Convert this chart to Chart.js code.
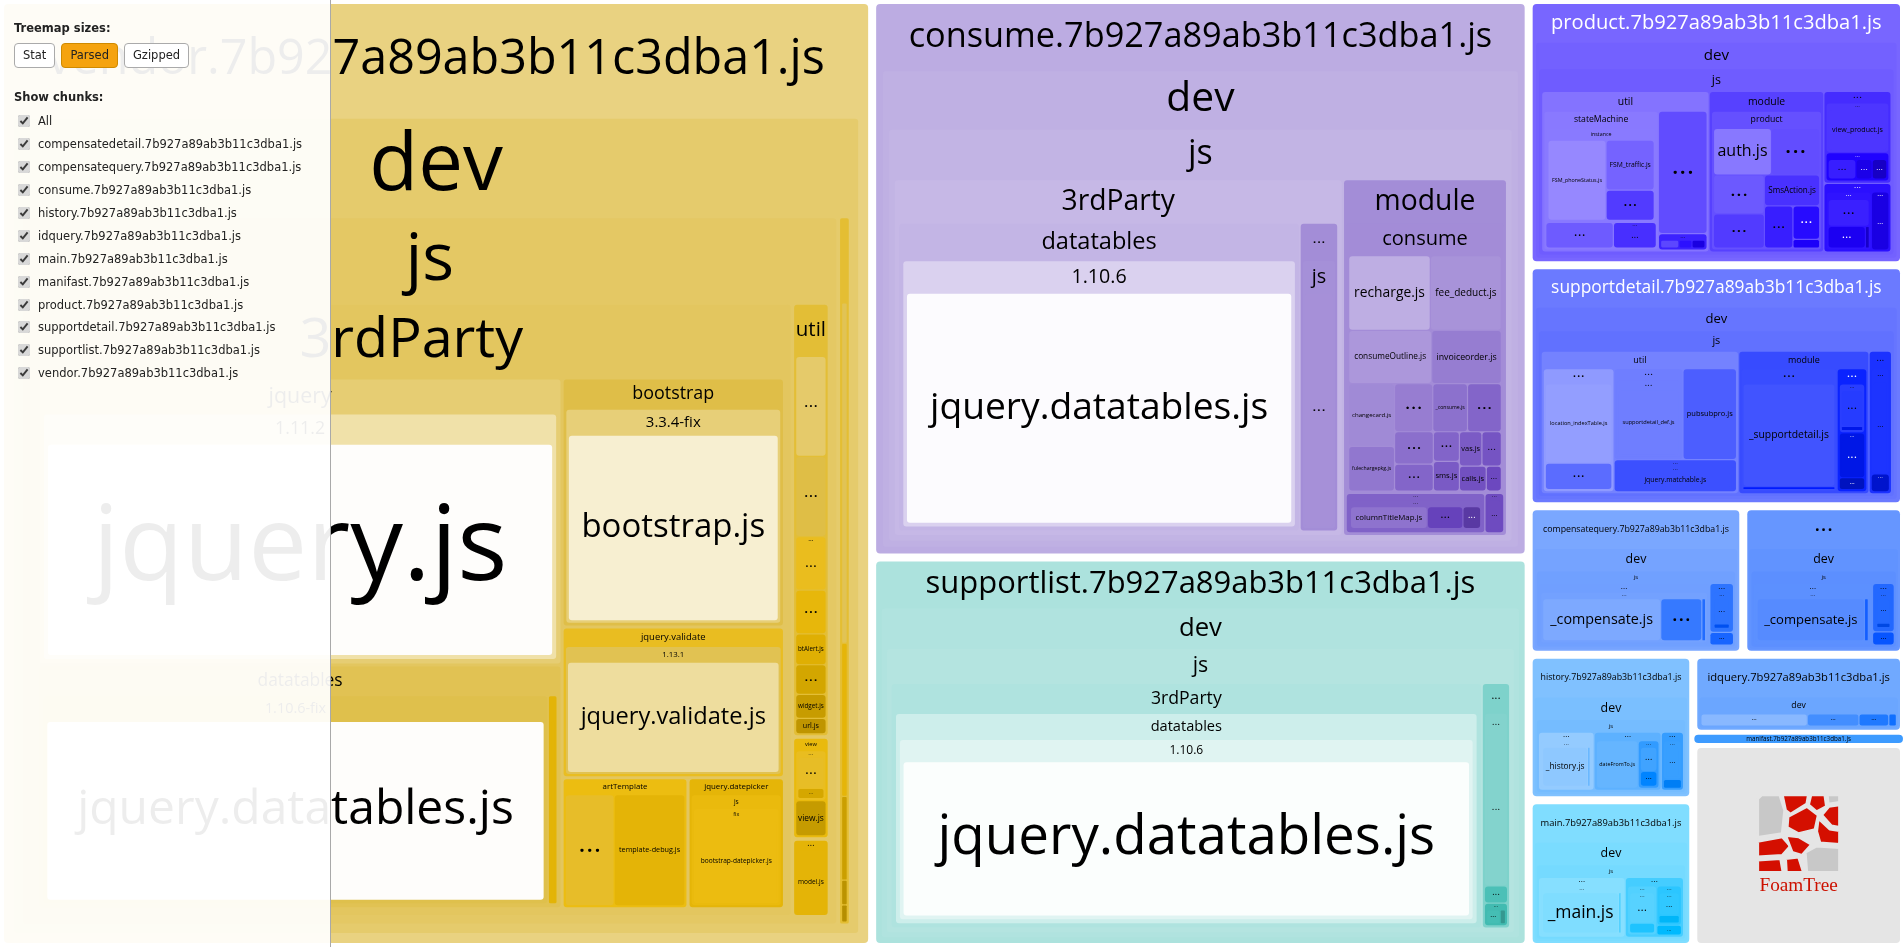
<!DOCTYPE html>
<html><head><meta charset="utf-8">
<script src="https://cdn.jsdelivr.net/npm/chart.js@4.4.1/dist/chart.umd.min.js"></script>
<style>
html,body{margin:0;padding:0;width:1904px;height:947px;overflow:hidden;background:#fff;}
#chartBox{position:absolute;left:0;top:0;width:1904px;height:947px;}
#side{position:absolute;left:0;top:0;width:331px;height:947px;background:rgba(255,255,255,0.93);border-right:1px solid #a9a9a9;box-sizing:border-box;font-family:"DejaVu Sans",sans-serif;font-size:11.5px;color:#222;}
#side .h{position:absolute;left:14px;font-weight:bold;}
#side .btns{position:absolute;left:14px;top:43px;display:flex;gap:6px;}
#side .btn{height:25px;line-height:23px;box-sizing:border-box;padding:0 8px;border:1px solid #aaa;border-radius:4px;background:#fff;color:#222;}
#side .btn.on{background:#f5a30f;border-color:#cf8a00;}
#side .list{position:absolute;left:16px;top:110px;}
#side .row{height:22.9px;display:flex;align-items:center;}
#side .row input{margin:0 8px 0 2px;width:12px;height:12px;accent-color:#d8d8d8;}
</style></head>
<body>
<div id="chartBox"><canvas id="c" width="1904" height="947"></canvas></div>
<div id="side">
  <div class="h" style="top:21px">Treemap sizes:</div>
  <div class="btns"><div class="btn">Stat</div><div class="btn on">Parsed</div><div class="btn">Gzipped</div></div>
  <div class="h" style="top:90px">Show chunks:</div>
  <div class="list" id="list"></div>
</div>
<script>
// ---------------- DATA (parsed sizes) ----------------
// "?x" = a module/folder whose name is not readable in the picture (drawn as "...")
const chunkNames = [
  "vendor.7b927a89ab3b11c3dba1.js",
  "consume.7b927a89ab3b11c3dba1.js",
  "supportlist.7b927a89ab3b11c3dba1.js",
  "product.7b927a89ab3b11c3dba1.js",
  "supportdetail.7b927a89ab3b11c3dba1.js",
  "compensatequery.7b927a89ab3b11c3dba1.js",
  "compensatedetail.7b927a89ab3b11c3dba1.js",
  "history.7b927a89ab3b11c3dba1.js",
  "main.7b927a89ab3b11c3dba1.js",
  "idquery.7b927a89ab3b11c3dba1.js",
  "manifast.7b927a89ab3b11c3dba1.js"
];
const vendorModules = [
  ["dev/js/3rdParty/jquery/1.11.2/jquery.js", 296],
  ["dev/js/3rdParty/datatables/1.10.6-fix/jquery.datatables.js", 247],
  ["dev/js/3rdParty/datatables/?d1/?d2/?d3", 4.5],
  ["dev/js/3rdParty/bootstrap/3.3.4-fix/bootstrap.js", 109],
  ["dev/js/3rdParty/jquery.validate/1.13.1/jquery.validate.js", 66],
  ["dev/js/3rdParty/artTemplate/template-debug-fix.js", 13.3],
  ["dev/js/3rdParty/artTemplate/template-debug.js", 19.2],
  ["dev/js/3rdParty/jquery.datepicker/js/fix/bootstrap-datepicker.js", 24.9],
  ["dev/js/util/?u1", 7.1],
  ["dev/js/util/?u2", 5.7],
  ["dev/js/util/?u3/?u3a", 3.8],
  ["dev/js/util/?u4", 3.1],
  ["dev/js/util/btAlert.js", 2.2],
  ["dev/js/util/?u5", 2.1],
  ["dev/js/util/widget.js", 1.7],
  ["dev/js/util/url.js", 1.1],
  ["dev/js/view/?v1/?v1a", 2.8],
  ["dev/js/view/?v1/btAlert.js", 0.9],
  ["dev/js/view/view.js", 2.6],
  ["dev/js/?m/model.js", 4.8],
  ["dev/?s/?s1", 6.9],
  ["dev/?s/?s2", 3.1],
  ["dev/?s/?s3", 1.7],
  ["dev/?s/?s4", 0.5],
  ["dev/?s/?s5", 0.35]
];
const consumeModules = [
  ["dev/js/3rdParty/datatables/1.10.6/jquery.datatables.js", 246],
  ["dev/js/3rdParty/?c/js/?c1", 23.5],
  ["dev/js/module/consume/recharge.js", 14.6],
  ["dev/js/module/consume/fee_deduct.js", 12.7],
  ["dev/js/module/consume/consumeOutline.js", 10.6],
  ["dev/js/module/consume/invoiceorder.js", 8.9],
  ["dev/js/module/consume/changecard.js", 6.9],
  ["dev/js/module/consume/fulechargepkg.js", 4.9],
  ["dev/js/module/consume/dateFromTo.js", 4.4],
  ["dev/js/module/consume/_consume.js", 4.0],
  ["dev/js/module/consume/?k1", 3.9],
  ["dev/js/module/consume/?k2", 3.0],
  ["dev/js/module/consume/?k3", 2.5],
  ["dev/js/module/consume/?k4", 1.85],
  ["dev/js/module/consume/sms.js", 1.85],
  ["dev/js/module/consume/vas.js", 1.85],
  ["dev/js/module/consume/package.js", 1.6],
  ["dev/js/module/consume/calls.js", 1.6],
  ["dev/js/module/consume/?k5", 0.9],
  ["dev/js/module/?n1/?n2/columnTitleMap.js", 6.5],
  ["dev/js/module/?n1/?n2/?n3", 3.0],
  ["dev/js/module/?n1/?n2/?n4", 1.5],
  ["dev/js/module/?n5/?n6", 1.5]
];
const supportlistModules = [
  ["dev/js/3rdParty/datatables/1.10.6/jquery.datatables.js", 245.3],
  ["dev/js/?r/?r1/?r1a", 9.5],
  ["dev/js/?r/?r2", 0.95],
  ["dev/js/?r/?r3/?r3a", 0.9],
  ["dev/js/?r/?r3/?r3b", 0.35]
];
const productModules = [
  ["dev/js/util/stateMachine/instance/FSM_phoneStatus.js", 14.5],
  ["dev/js/util/stateMachine/instance/FSM_traffic.js", 7.5],
  ["dev/js/util/stateMachine/instance/?i1", 4.5],
  ["dev/js/util/stateMachine/?s1", 4.4],
  ["dev/js/util/stateMachine/?s2/?s2a", 2.8],
  ["dev/js/util/?u1", 12.6],
  ["dev/js/util/?u2/?a", 0.7],
  ["dev/js/util/?u2/?b", 0.5],
  ["dev/js/util/?u2/?c", 0.5],
  ["dev/js/module/product/auth.js", 7.0],
  ["dev/js/module/product/?p1", 5.8],
  ["dev/js/module/product/?p2", 5.1],
  ["dev/js/module/product/?p3", 4.5],
  ["dev/js/module/product/SmsAction.js", 4.4],
  ["dev/js/module/product/_product.js", 3.1],
  ["dev/js/module/product/lotRefund.js", 2.3],
  ["dev/js/module/product/?p4", 0.6],
  ["dev/js/?x/?xa/view_product.js", 7.0],
  ["dev/js/?x/?xb/?1", 1.9],
  ["dev/js/?x/?xb/?2", 1.1],
  ["dev/js/?x/?xb/?3", 1.0],
  ["dev/js/?y/?yc/?1", 3.3],
  ["dev/js/?y/?yc/?2", 2.4],
  ["dev/js/?y/?yc/?3", 0.25],
  ["dev/js/?y/?yd/?1", 2.3]
];
const supportdetailModules = [
  ["dev/js/util/?a/location_indexTable.js", 14.1],
  ["dev/js/util/?a/?a1", 4.7],
  ["dev/js/util/?b/?b1/supportdetail_def.js", 13.5],
  ["dev/js/util/pubsubpro.js", 10.5],
  ["dev/js/util/?d/?d1/jquery.matchable.js", 8.5],
  ["dev/js/module/?e/_supportdetail.js", 25.1],
  ["dev/js/module/?e/?e1", 0.75],
  ["dev/js/module/?f/?f1/?x", 3.3],
  ["dev/js/module/?f/?f1/?y", 0.4],
  ["dev/js/module/?f/?f2/?z", 3.4],
  ["dev/js/module/?f/?f3", 0.9],
  ["dev/js/?c/?c1/?w", 5.0],
  ["dev/js/?c/?c2/?v", 0.85]
];
const compensatequeryModules = [
  ["dev/js/?a/?a1/_compensate.js", 20.4],
  ["dev/js/?a/?a1/?x", 7.1],
  ["dev/js/?a/?a1/?y", 0.65],
  ["dev/js/?b/?b1/?z", 2.65],
  ["dev/js/?b/?b1/?t", 0.45],
  ["dev/js/?c/?u", 0.8]
];
const compensatedetailModules = [
  ["dev/js/?a/?a1/_compensate.js", 19.6],
  ["dev/js/?a/?a1/?x", 0.7],
  ["dev/js/?b/?b1/?z", 2.45],
  ["dev/js/?b/?b1/?t", 0.45],
  ["dev/js/?c/?u", 0.8]
];
const historyModules = [
  ["dev/js/?a/?a1/_history.js", 8.8],
  ["dev/js/?a/?a1/?x", 0.45],
  ["dev/js/?b/dateFromTo.js", 7.4],
  ["dev/js/?b/?b2/?y", 2.3],
  ["dev/js/?b/?b2/?z", 1.4],
  ["dev/js/?c/?c1/?w", 3.0],
  ["dev/js/?c/?v", 0.7]
];
const mainModules = [
  ["dev/js/?a/?a1/_main.js", 14.1],
  ["dev/js/?a/?a1/?x", 0.45],
  ["dev/js/?b/?b1/?c/?d", 4.0],
  ["dev/js/?b/?b1/?e", 1.3],
  ["dev/js/?b/?b2/?f/?g", 2.65],
  ["dev/js/?b/?b2/?h", 0.9],
  ["dev/js/?b/?b3", 0.9]
];
const idqueryModules = [
  ["dev/?a/?a1", 9.1],
  ["dev/?b/?b1", 4.4],
  ["dev/?c/?c1", 2.55],
  ["dev/?d", 0.65]
];
const manifastModules = [
  ["dev/js/?m", 2.2]
];
const chunkModules = [vendorModules, consumeModules, supportlistModules, productModules,
  supportdetailModules, compensatequeryModules, compensatedetailModules, historyModules,
  mainModules, idqueryModules, manifastModules];
const sidebarChunks = ["compensatedetail", "compensatequery", "consume", "history", "idquery",
  "main", "manifast", "product", "supportdetail", "supportlist", "vendor"];

// ---------------- STYLE ----------------
const chunkStyle = {
  vendor: {h: 47, s: 70, l: 71, chain: -5, satBoost: true},
  consume: {h: 258, s: 48, l: 78, chain: 1},
  supportlist: {h: 175, s: 48, l: 78, chain: 1},
  product: {h: 247, s: 100, l: 70, chain: -1, white: true},
  supportdetail: {h: 234, s: 100, l: 71, chain: -1, white: true},
  compensatequery: {h: 220, s: 100, l: 74, chain: -1},
  compensatedetail: {h: 221, s: 100, l: 70, chain: -1},
  history: {h: 209, s: 100, l: 75, chain: -1},
  main: {h: 196, s: 100, l: 75, chain: -1},
  idquery: {h: 216, s: 100, l: 72, chain: -1},
  manifast: {h: 211, s: 100, l: 62, chain: 0}
};
const FONT = '"Open Sans", "Noto Sans", sans-serif';
const ATTRIBUTION_WEIGHT = 43;
const MINBAND = [38, 22, 12, 8, 6];
const ROW_TOLERANCE = 1.15;

// sidebar list
(function(){
  const list = document.getElementById('list');
  const rows = ['All'].concat(sidebarChunks.map(n => n + '.7b927a89ab3b11c3dba1.js'));
  rows.forEach(t => {
    const d = document.createElement('div'); d.className = 'row';
    d.innerHTML = '<input type="checkbox" checked><span></span>';
    d.querySelector('span').textContent = t; list.appendChild(d);
  });
})();

// ---------------- TREE + LAYOUT ----------------
function buildTree(name, modules){
  const root = {name, children: [], value: 0};
  for (const [path, size] of modules){
    let node = root;
    for (const part of path.split('/')){
      let c = node.children.find(k => k.name === part);
      if (!c){ c = {name: part, children: [], value: 0}; node.children.push(c); }
      node = c;
    }
    node.value = size;
  }
  (function sum(n){ if (n.children.length){ n.value = n.children.reduce((a, c) => a + sum(c), 0); } return n.value; })(root);
  return root;
}

function worstAspect(row, sum, side){
  const thick = sum / side; let t = 0;
  for (const it of row){ const len = it.a / thick; t = Math.max(t, thick / len, len / thick); }
  return t;
}
function squarify(items, rect){
  const total = items.reduce((a, b) => a + b.v, 0);
  const A = rect.w * rect.h;
  const list = items.map(it => ({...it, a: it.v / total * A}));
  let {x, y, w, h} = rect; const out = []; let i = 0;
  while (i < list.length){
    const side = Math.min(w, h);
    let row = [list[i]], s = list[i].a, best = worstAspect(row, s, side); i++;
    while (i < list.length && !list[i].solo && !row[0].solo){
      const cand = row.concat([list[i]]), s2 = s + list[i].a, asp = worstAspect(cand, s2, side);
      if (asp <= best * ROW_TOLERANCE){ row = cand; s = s2; best = asp; i++; } else break;
    }
    const thick = s / side;
    if (w >= h){
      let yy = y; for (const it of row){ const hh = it.a / thick; out.push({item: it, x, y: yy, w: thick, h: hh}); yy += hh; }
      x += thick; w -= thick;
    } else {
      let xx = x; for (const it of row){ const ww = it.a / thick; out.push({item: it, x: xx, y, w: ww, h: thick}); xx += ww; }
      y += thick; h -= thick;
    }
  }
  return out;
}
function layoutNode(node, x, y, w, h, depth){
  node.r = {x, y, w, h}; node.depth = depth; node.band = 0; node.inner = null; node.collapsed = false;
  if (!node.children.length) return;
  let band = Math.max(0.12 * h, MINBAND[Math.min(depth, 4)]);
  band = Math.min(band, 0.55 * h);
  const pad = Math.max(1.5, Math.min(8, 0.009 * Math.sqrt(w * h)));
  const iw = w - 2 * pad, ih = h - band - pad;
  if (iw < 4 || ih < 4){ node.collapsed = true; return; }
  node.band = band;
  const inner = {x: x + pad, y: y + band, w: iw, h: ih}; node.inner = inner;
  const g = Math.max(0.6, Math.min(2, 0.0025 * Math.sqrt(iw * ih)));
  const cells = squarify(node.children.map(c => ({node: c, v: c.value})), inner);
  for (const c of cells){
    const gi = Math.min(g, c.w * 0.25, c.h * 0.25);
    layoutNode(c.item.node, c.x + gi, c.y + gi, c.w - 2 * gi, c.h - 2 * gi, depth + 1);
  }
}
function clamp(v, a, b){ return Math.max(a, Math.min(b, v)); }
function bigness(r){ return clamp((Math.sqrt(r.w * r.h) - 80) / 200, 0, 1); }
function colorize(node, st, L){
  let s = st.s;
  if (st.satBoost) s = s + (100 - s) * clamp((58 - L) / 15, 0, 1);
  node.col = {h: st.h, s, L};
  if (!node.children.length || node.collapsed) return;
  const kids = node.children, r = node.inner;
  for (const k of kids){
    let Lc = L;
    if (kids.length > 1){
      const cx = k.r.x + k.r.w / 2 - r.x, cy = k.r.y + k.r.h / 2 - r.y;
      const t = (cx + cy) / (r.w + r.h);
      Lc = L + 36 * (0.45 - t);
    } else if (k.depth >= 4){
      Lc = L + (99 - L) * 0.4 * bigness(k.r);
    } else {
      Lc = L + st.chain;
    }
    if (!k.children.length){
      Lc = Lc + (99 - Lc) * bigness(k.r);
    }
    colorize(k, st, clamp(Lc, 18, 99));
  }
}
function hsl2rgb(h, s, l){
  s /= 100; l /= 100;
  const k = n => (n + h / 30) % 12, a = s * Math.min(l, 1 - l);
  const f = n => l - a * Math.max(-1, Math.min(k(n) - 3, Math.min(9 - k(n), 1)));
  return [f(0), f(8), f(4)];
}
function lum(rgb){ const c = v => v <= 0.03928 ? v / 12.92 : Math.pow((v + 0.055) / 1.055, 2.4); return 0.2126 * c(rgb[0]) + 0.7152 * c(rgb[1]) + 0.0722 * c(rgb[2]); }

function rr(ctx, x, y, w, h, r){
  r = Math.max(0, Math.min(r, w / 2, h / 2));
  ctx.beginPath(); ctx.moveTo(x + r, y); ctx.lineTo(x + w - r, y); ctx.quadraticCurveTo(x + w, y, x + w, y + r);
  ctx.lineTo(x + w, y + h - r); ctx.quadraticCurveTo(x + w, y + h, x + w - r, y + h);
  ctx.lineTo(x + r, y + h); ctx.quadraticCurveTo(x, y + h, x, y + h - r);
  ctx.lineTo(x, y + r); ctx.quadraticCurveTo(x, y, x + r, y); ctx.closePath();
}
function dots(ctx, cx, cy, fs, color){
  if (fs < 3.5) return;
  ctx.font = `bold ${fs}px ${FONT}`; ctx.fillStyle = color;
  ctx.letterSpacing = (fs * 0.12) + 'px';
  ctx.fillText('...', cx + fs * 0.06, cy - fs * 0.2);
  ctx.letterSpacing = '0px';
}
function fitText(ctx, text, fs, maxW){
  ctx.font = `${fs}px ${FONT}`; const w = ctx.measureText(text).width;
  return w > maxW ? fs * maxW / w : fs;
}
function drawNode(ctx, node, white){
  const {x, y, w, h} = node.r; if (w <= 0.4 || h <= 0.4) return;
  const rgb = hsl2rgb(node.col.h, node.col.s, node.col.L);
  ctx.fillStyle = `rgb(${Math.round(rgb[0]*255)},${Math.round(rgb[1]*255)},${Math.round(rgb[2]*255)})`;
  rr(ctx, x, y, w, h, node.depth === 0 ? 4 : Math.min(3, w / 5, h / 5)); ctx.fill();
  const tc = (node.depth === 0 && white) ? '#fff' : (lum(rgb) < 0.085 ? '#fff' : '#000');
  const hidden = node.name.startsWith('?');
  ctx.textAlign = 'center'; ctx.textBaseline = 'middle';
  if (node.children.length && !node.collapsed){
    const b = node.band, cx = x + w / 2, cy = y + b / 2;
    let fs = Math.min(0.26 * Math.pow(b, 1.25), 0.82 * b);
    if (!hidden) fs = fitText(ctx, node.name, fs, 0.9 * w);
    const minFs = node.depth === 0 ? 7 : 5;
    if (!hidden && fs >= minFs){ ctx.font = `${fs}px ${FONT}`; ctx.fillStyle = tc; ctx.fillText(node.name, cx, cy); }
    else dots(ctx, cx, cy, Math.min(b * 0.7, w * 0.3, 16), tc);
    node.children.forEach(c => drawNode(ctx, c, white));
  } else {
    const cx = x + w / 2, cy = y + h / 2;
    let fs = Math.min((node.collapsed ? 0.75 : 0.5) * h, 140);
    if (!hidden) fs = fitText(ctx, node.name, fs, 0.88 * w);
    if (!hidden && fs >= 5){ ctx.font = `${fs}px ${FONT}`; ctx.fillStyle = tc; ctx.fillText(node.name, cx, cy); }
    else dots(ctx, cx, cy, Math.min(w * 0.4, h * 0.4, 22), tc);
  }
}
function drawLogo(ctx, r){
  ctx.fillStyle = '#e5e5e5'; rr(ctx, r.x, r.y, r.w, r.h, 4); ctx.fill();
  const S = Math.min(r.w, r.h) * 0.42, lx = r.x + r.w / 2 - S / 2, ly = r.y + r.h / 2 - S * 0.62;
  const polys = [
    ['#c8c8c8', [[0,0.05],[0.05,0],[0.27,0],[0.33,0.2],[0.3,0.5],[0,0.55]]],
    ['#d40f00', [[0.3,0],[0.62,0],[0.6,0.12],[0.4,0.25],[0.34,0.2]]],
    ['#d40f00', [[0.65,0],[0.82,0],[0.84,0.15],[0.72,0.22],[0.62,0.13]]],
    ['#c8c8c8', [[0.85,0],[1,0],[1,0.1],[0.86,0.12]]],
    ['#d40f00', [[0.87,0.15],[1,0.13],[1,0.42],[0.9,0.4],[0.78,0.26]]],
    ['#d40f00', [[0.37,0.28],[0.6,0.15],[0.74,0.26],[0.7,0.45],[0.5,0.5],[0.36,0.42]]],
    ['#d40f00', [[0.74,0.3],[0.88,0.44],[1,0.46],[1,0.64],[0.76,0.62],[0.72,0.47]]],
    ['#d40f00', [[0,0.6],[0.3,0.54],[0.4,0.66],[0.3,0.78],[0,0.8]]],
    ['#d40f00', [[0.34,0.52],[0.5,0.54],[0.66,0.64],[0.54,0.78],[0.42,0.74]]],
    ['#d40f00', [[0,0.84],[0.28,0.82],[0.31,1],[0,1]]],
    ['#d40f00', [[0.34,0.82],[0.5,0.8],[0.56,1],[0.35,1]]],
    ['#c8c8c8', [[0.58,0.74],[0.72,0.66],[1,0.68],[1,1],[0.6,1]]]
  ];
  ctx.lineJoin = 'round'; ctx.lineWidth = S * 0.035; ctx.strokeStyle = '#e5e5e5';
  for (const [col, pts] of polys){
    ctx.beginPath(); pts.forEach((p, i) => { const px = lx + p[0] * S, py = ly + p[1] * S * 0.95; i ? ctx.lineTo(px, py) : ctx.moveTo(px, py); });
    ctx.closePath(); ctx.fillStyle = col; ctx.fill(); ctx.stroke();
  }
  ctx.fillStyle = '#cc1100'; ctx.textAlign = 'center'; ctx.textBaseline = 'alphabetic';
  ctx.font = `${S * 0.235}px "Liberation Serif", "DejaVu Serif", serif`;
  ctx.fillText('FoamTree', lx + S / 2, ly + S * 1.18);
}

const roots = chunkNames.map((n, i) => buildTree(n, chunkModules[i]));

const treemapPlugin = {
  id: 'foamtreeLike',
  afterDatasetsDraw(chart){
    const {ctx, scales: {x, y}} = chart;
    const X0 = x.getPixelForValue(0), X1 = x.getPixelForValue(1);
    const Y0 = y.getPixelForValue(0), Y1 = y.getPixelForValue(1);
    const rect = {x: Math.min(X0, X1), y: Math.min(Y0, Y1), w: Math.abs(X1 - X0), h: Math.abs(Y1 - Y0)};
    const items = roots.map(r => ({node: r, v: r.value}));
    items.push({node: null, v: ATTRIBUTION_WEIGHT, solo: true});
    const cells = squarify(items, rect);
    ctx.save();
    for (const c of cells){
      const g = Math.min(4, Math.min(c.w, c.h) * 0.1);
      const r = {x: c.x + g, y: c.y + g, w: c.w - 2 * g, h: c.h - 2 * g};
      if (!c.item.node){ drawLogo(ctx, r); continue; }
      const node = c.item.node, key = node.name.split('.')[0], st = chunkStyle[key];
      layoutNode(node, r.x, r.y, r.w, r.h, 0);
      colorize(node, st, st.l);
      drawNode(ctx, node, !!st.white);
    }
    ctx.restore();
  }
};

new Chart(document.getElementById('c'), {
  type: 'scatter',
  data: {datasets: [{data: [], pointRadius: 0}]},
  options: {
    responsive: false, animation: false, events: [],
    layout: {padding: 0},
    scales: {
      x: {type: 'linear', min: 0, max: 1, display: false},
      y: {type: 'linear', min: 0, max: 1, reverse: true, display: false}
    },
    plugins: {legend: {display: false}, tooltip: {enabled: false}}
  },
  plugins: [treemapPlugin]
});
</script>
</body></html>
